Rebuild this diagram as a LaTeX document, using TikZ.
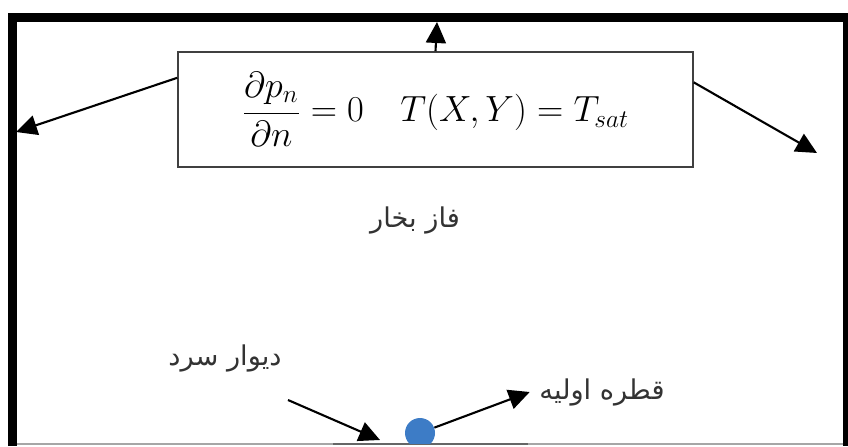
\documentclass[tikz,border=0pt]{standalone}
\usepackage{fontspec}
\newfontfamily\arabicfont[Script=Arabic]{DejaVu Sans}
\TeXXeTstate=1
\usepackage{tikz}
\usetikzlibrary{arrows.meta, positioning}
\definecolor{dropblue}{HTML}{3D7CC6}

\begin{document}
\begin{tikzpicture}[
        x=0.02cm, y=-0.02cm,
        wall/.style={draw, line width=5.1pt, line join=miter},
        eqbox/.style={rectangle, draw=black!75, line width=0.9pt, minimum width=10.3cm, minimum height=2.3cm, inner sep=0pt},
        fatext/.style={font=\arabicfont\fontsize{15.5}{18}\selectfont, text=black!80},
        line/.style={draw, line width=1.2pt, -{Triangle[length=0.42cm, width=0.4cm]}},
        droplet/.style={circle, fill=dropblue, minimum size=0.6cm, inner sep=0pt}
    ]
    \useasboundingbox (0,0) rectangle (848,446);

    % Walls
    \path [wall] (12.5,446) -- (12.5,17.5) -- (847.5,17.5) -- (847.5,446);
    \draw [black!35, line width=0.6pt] (17,444) -- (843,444);
    \draw [black!60, line width=0.6pt] (333,444) -- (528,444);

    % Nodes
    \node [eqbox] (eq) at (435.5,109.5) {\huge $\displaystyle\frac{\partial p_n}{\partial n} = 0 \quad T(X,Y) = T_{sat}$};
    \node [fatext] (vapor) at (415,220) {\beginR فاز بخار\endR};
    \node [fatext] (coldwall) at (225,358) {\beginR دیوار سرد\endR};
    \node [fatext] (droplabel) at (602,392) {\beginR قطره اولیه\endR};
    \begin{scope}
        \clip (0,0) rectangle (848,443);
        \node [droplet] (drop) at (420,433) {};
    \end{scope}
    \coordinate (leftwall) at (16,132);
    \coordinate (topwall) at (437,22);
    \coordinate (rightend) at (817,153);
    \coordinate (wallfrom) at (288,400);
    \coordinate (wallto) at (380,440);

    % Edges
    \path [line] (eq.north) -- (topwall);
    \path [line] (eq.173.5) -- (leftwall);
    \path [line] (eq.6.1) -- (rightend);
    \path [line] (wallfrom) -- (wallto);
    \path [line] (drop) -- ([xshift=-2pt]droplabel.west);

\end{tikzpicture}
\end{document}
